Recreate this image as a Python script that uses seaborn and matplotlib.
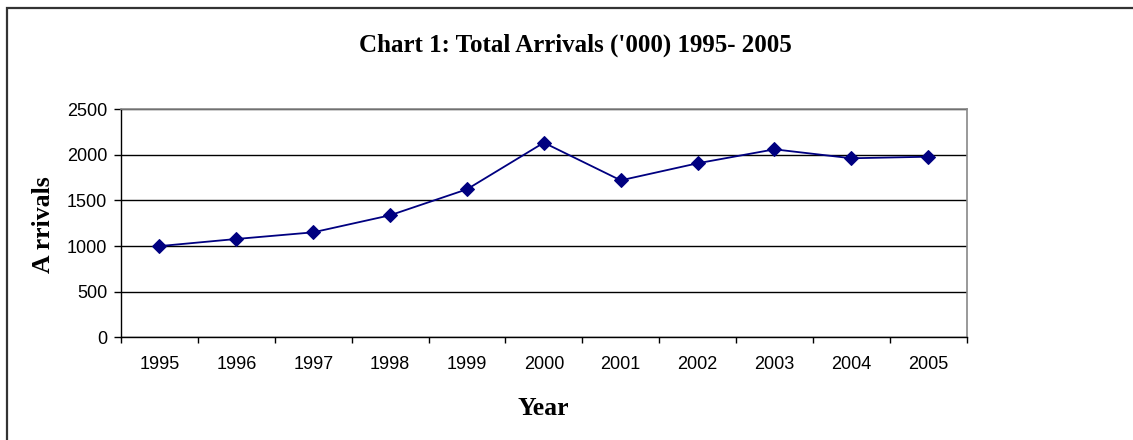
import numpy as np
import pandas as pd
import seaborn as sns
import matplotlib.pyplot as plt
from matplotlib.patches import Rectangle
from matplotlib.ticker import FixedLocator

sns.set_style('white')
plt.rcParams['font.family'] = ['Liberation Sans', 'DejaVu Sans']
plt.rcParams['text.color'] = 'black'
plt.rcParams['xtick.color'] = 'black'
plt.rcParams['ytick.color'] = 'black'

# Dados
years = ['1995', '1996', '1997', '1998', '1999', '2000',
         '2001', '2002', '2003', '2004', '2005']
arrivals = [1000, 1078, 1151, 1338, 1623, 2134, 1721, 1908, 2061, 1963, 1980]

df = pd.DataFrame({'Year': years, 'Arrivals': arrivals})
df['pos'] = np.arange(len(years))

fig = plt.figure(figsize=(11.33, 4.40), dpi=100)
ax = fig.add_axes([0.1068, 0.2334, 0.7464, 0.5182])

# Moldura externa do gráfico
fig.patches.append(Rectangle((7 / 1133, -0.05), 1.2, (440 - 8) / 440 + 0.05,
                             transform=fig.transFigure, fill=False,
                             edgecolor='#333333', linewidth=1.6))

sns.lineplot(data=df, x='pos', y='Arrivals', ax=ax, color='#000080',
             marker='D', markersize=7, markeredgecolor='#000080',
             linewidth=1.3)

ax.set_xlim(-0.5, len(years) - 0.5)
ax.set_ylim(0, 2500)
ax.set_yticks([0, 500, 1000, 1500, 2000, 2500])
ax.yaxis.grid(True, color='black', linewidth=1)
ax.set_axisbelow(True)

ax.set_xticks(df['pos'])
ax.set_xticklabels(years)
ax.xaxis.set_minor_locator(FixedLocator(np.arange(-0.5, len(years), 1)))
ax.tick_params(axis='x', which='major', length=0, pad=13.5, labelsize=13)
ax.tick_params(axis='x', which='minor', length=4, width=1, color='black',
               direction='out', bottom=True)
ax.tick_params(axis='y', length=5, width=1, color='black', pad=5,
               labelsize=13, left=True)

for s in ['left', 'bottom']:
    ax.spines[s].set_color('black')
    ax.spines[s].set_linewidth(1)
for s in ['top', 'right']:
    ax.spines[s].set_color('#888888')
    ax.spines[s].set_linewidth(1.2)

ax.set_xlabel('')
ax.set_ylabel('')

fig.text(575 / 1133, 1 - 45 / 440, "Chart 1: Total Arrivals ('000) 1995- 2005",
         ha='center', va='center', fontsize=18, fontweight='bold',
         family='Liberation Serif')
fig.text(43 / 1133, 1 - 225 / 440, 'A rrivals', rotation=90,
         ha='center', va='center', fontsize=18.5, fontweight='bold',
         family='Liberation Serif')
fig.text(543 / 1133, 1 - 408 / 440, 'Year',
         ha='center', va='center', fontsize=18.5, fontweight='bold',
         family='Liberation Serif')

plt.savefig('out.png', dpi=100)
